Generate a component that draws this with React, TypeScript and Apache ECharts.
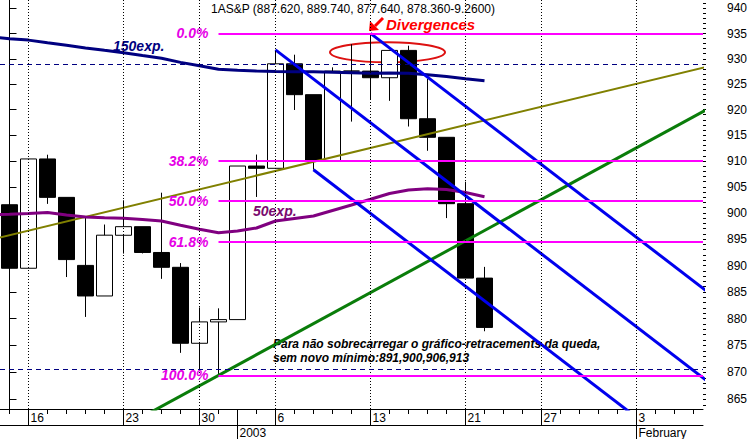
import React, { useEffect, useRef } from 'react';
import * as echarts from 'echarts';

// Trading days shown on the category axis (Dec 13, 2002 .. Feb 6, 2003)
const dates = [
  '12-13', '12-16', '12-17', '12-18', '12-19', '12-20', '12-23', '12-24', '12-26', '12-27', '12-30', '12-31',
  '01-02', '01-03', '01-06', '01-07', '01-08', '01-09', '01-10', '01-13', '01-14', '01-15', '01-16', '01-17',
  '01-21', '01-22', '01-23', '01-24', '01-27', '01-28', '01-29', '01-30', '01-31',
  '02-03', '02-04', '02-05', '02-06',
];

// S&P daily OHLC (Dec 13 .. Jan 22)
const openP = [901.58, 889.48, 910.40, 902.99, 890.02, 884.25, 895.74, 897.38, 892.47, 889.66, 875.40, 879.39,
  879.82, 909.03, 908.59, 929.01, 922.93, 909.93, 927.58, 927.57, 926.26, 931.66, 918.22, 914.60, 901.78, 887.62];
const highP = [901.58, 910.42, 911.22, 902.99, 899.19, 897.79, 902.43, 897.38, 903.89, 890.46, 882.10, 881.93,
  909.03, 911.25, 931.77, 930.81, 922.93, 928.31, 932.89, 935.05, 931.66, 932.59, 926.03, 914.60, 906.00, 889.74];
const lowP = [888.48, 889.48, 901.74, 887.82, 880.32, 884.25, 892.26, 892.29, 887.48, 873.62, 870.23, 869.45,
  879.82, 903.07, 908.59, 919.93, 908.32, 909.93, 917.66, 922.05, 921.72, 916.70, 911.98, 899.02, 887.62, 877.64];
const closeP = [889.48, 910.40, 902.99, 891.12, 884.25, 895.76, 897.38, 892.47, 889.66, 875.40, 879.39, 879.82,
  909.03, 908.59, 929.01, 922.93, 909.93, 927.57, 927.57, 926.26, 931.66, 918.22, 914.60, 901.78, 887.62, 878.36];

// Moving averages, first value belongs to the day before the first visible category (index -1)
const maStartIdx = -1;
const ema150 = [934.39, 933.99, 933.70, 933.16, 932.67, 932.15, 931.67, 931.20, 930.64, 930.12, 929.29, 928.63,
  927.94, 927.74, 927.58, 927.50, 927.44, 927.42, 927.34, 927.24, 927.14, 927.18, 927.14, 926.84, 926.49, 926.05, 925.65];
const ema50 = [899.70, 899.74, 899.90, 900.09, 899.61, 899.23, 899.07, 898.98, 898.73, 898.46, 897.66, 896.90,
  896.23, 896.55, 897.13, 898.46, 898.94, 899.42, 900.47, 901.52, 902.62, 903.73, 904.40, 904.65, 904.50, 903.92, 903.11];

// Trend lines: [categoryIndex, price] endpoints
const oliveLine = [[-1, 894.88], [37, 928.69]];
const greenLine = [[7, 861.83], [37, 920.63]];
const blueLines = [
  [[14, 931.77], [37, 867.65]],
  [[19, 935.05], [37, 884.32]],
  [[16, 908.32], [37, 851.09]],
];

// Fibonacci retracement
const fibHigh = 935.05;
const fibLow = 869.45;
const fibStartIdx = 11;
const fibLevels = [0, 38.2, 50, 61.8, 100];

const dashedLevels = [929.0, 870.6];

// Axis ticks / labels
const majorTickIdx = [1, 6, 10, 14, 19, 24, 28, 33];
const separatorIdx = [12, 33];
const separatorLabels = ['2003', 'February'];
const yTickLabels = [865, 870, 875, 880, 885, 890, 895, 900, 905, 910, 915, 920, 925, 930, 935, 940];
const yMin = 863.25;
const yMax = 941.7;

const FONT = 'Arial, "Liberation Sans", sans-serif';

export default function App() {
  const ref = useRef<HTMLDivElement>(null);

  useEffect(() => {
    const chart = echarts.init(ref.current as HTMLDivElement, null, { renderer: 'svg' });

    const yMinor: number[] = [];
    for (let v = Math.ceil(yMin); v <= Math.floor(yMax); v++) yMinor.push(v);

    const candleData = openP.map((o, i) => [o, closeP[i], lowP[i], highP[i]]);
    const xMaxIdx = dates.length - 0.5;

    const lineSeries = (data: number[][], color: string, width: number, z = 3) => ({
      type: 'line',
      xAxisIndex: 3,
      yAxisIndex: 0,
      data,
      symbol: 'none',
      silent: true,
      z,
      lineStyle: { color, width },
    });

    const option: any = {
      animation: false,
      backgroundColor: '#ffffff',
      grid: { left: -1, top: 0, width: 704, height: 409, containLabel: false },
      xAxis: [
        {
          type: 'category',
          data: dates,
          position: 'bottom',
          boundaryGap: true,
          axisLine: { show: true, lineStyle: { color: '#000', width: 1 } },
          axisTick: { show: true, interval: 0, alignWithLabel: true, length: 5, lineStyle: { color: '#000' } },
          axisLabel: {
            show: true,
            interval: (i: number) => majorTickIdx.includes(i),
            formatter: (v: string) => String(Number(v.slice(3))),
            align: 'left',
            margin: 3,
            padding: [0, 0, 0, 2],
            color: '#000',
            fontSize: 12,
            fontFamily: FONT,
          },
          splitLine: { show: false },
        },
        {
          type: 'category',
          data: dates,
          position: 'bottom',
          axisLine: { show: false },
          axisTick: {
            show: true,
            interval: (i: number) => majorTickIdx.includes(i) || separatorIdx.includes(i),
            alignWithLabel: true,
            length: 16,
            lineStyle: { color: '#000' },
          },
          axisLabel: { show: false },
          splitLine: { show: false },
        },
        {
          type: 'category',
          data: dates,
          position: 'bottom',
          offset: 16,
          axisLine: { show: true, lineStyle: { color: '#000', width: 1 } },
          axisTick: {
            show: true,
            interval: (i: number) => separatorIdx.includes(i),
            alignWithLabel: true,
            length: 14,
            lineStyle: { color: '#000' },
          },
          axisLabel: {
            show: true,
            interval: (i: number) => separatorIdx.includes(i),
            formatter: (_v: string, i: number) => separatorLabels[separatorIdx.indexOf(i)] || '',
            align: 'left',
            margin: 2,
            padding: [0, 0, 0, 2],
            color: '#000',
            fontSize: 12,
            fontFamily: FONT,
          },
          splitLine: { show: false },
        },
        { type: 'value', min: -0.5, max: xMaxIdx, show: false, position: 'bottom' },
      ],
      yAxis: [
        {
          type: 'log',
          logBase: 10,
          min: yMin,
          max: yMax,
          position: 'right',
          axisLine: { show: true, lineStyle: { color: '#000', width: 1 } },
          axisTick: { show: true, customValues: yTickLabels, length: 7, lineStyle: { color: '#000' } },
          axisLabel: {
            show: true,
            customValues: yTickLabels,
            margin: 24,
            color: '#000',
            fontSize: 12,
            fontFamily: FONT,
            formatter: (v: number) => String(Math.round(v)),
          },
          splitLine: { show: false },
        },
        {
          type: 'log',
          logBase: 10,
          min: yMin,
          max: yMax,
          position: 'right',
          axisLine: { show: false },
          axisTick: { show: true, customValues: yMinor, length: 3, lineStyle: { color: '#000' } },
          axisLabel: { show: false },
          splitLine: { show: false },
        },
      ],
      series: [
        {
          type: 'line',
          xAxisIndex: 3,
          yAxisIndex: 0,
          data: [],
          silent: true,
          z: 1,
          markLine: {
            silent: true,
            symbol: ['none', 'none'],
            label: { show: false },
            lineStyle: { color: '#000', type: [1, 2], width: 1 },
            data: majorTickIdx.map((i) => ({ xAxis: i })),
          },
        },
        {
          type: 'line',
          xAxisIndex: 3,
          yAxisIndex: 0,
          data: [],
          silent: true,
          z: 1,
          markLine: {
            silent: true,
            symbol: ['none', 'none'],
            label: { show: false },
            lineStyle: { color: '#000080', type: [5, 4], width: 1 },
            data: dashedLevels.map((v) => ({ yAxis: v })),
          },
        },
        {
          type: 'candlestick',
          xAxisIndex: 0,
          yAxisIndex: 0,
          data: candleData,
          barWidth: 16,
          silent: true,
          z: 2,
          itemStyle: {
            color: '#ffffff',
            color0: '#000000',
            borderColor: '#000000',
            borderColor0: '#000000',
            borderWidth: 1,
          },
        },
        {
          type: 'line',
          xAxisIndex: 3,
          yAxisIndex: 0,
          data: [],
          silent: true,
          z: 3,
          markLine: {
            silent: true,
            symbol: ['none', 'none'],
            lineStyle: { color: '#ff00ff', type: 'solid', width: 2 },
            label: {
              show: true,
              position: 'start',
              distance: 10,
              color: '#e600e6',
              fontSize: 14,
              fontWeight: 'bold',
              fontStyle: 'italic',
              fontFamily: FONT,
            },
            data: fibLevels.map((p) => {
              const v = fibHigh - ((fibHigh - fibLow) * p) / 100;
              return [
                { coord: [fibStartIdx, v], label: { formatter: p.toFixed(1) + '%' } },
                { coord: [xMaxIdx, v] },
              ];
            }),
          },
        },
        lineSeries(oliveLine, '#808000', 2),
        lineSeries(greenLine, '#0a7d0a', 3),
        lineSeries(ema150.map((v, k) => [k + maStartIdx, v]), '#000080', 3),
        lineSeries(ema50.map((v, k) => [k + maStartIdx, v]), '#800080', 3),
        ...blueLines.map((l) => lineSeries(l, '#0000ee', 3, 4)),
      ],
      graphic: [
        {
          type: 'text', x: 211, y: 8.5, silent: true,
          style: { text: '1AS&P (887.620, 889.740, 877.640, 878.360-9.2600)', fill: '#000', fontSize: 12, fontFamily: FONT, verticalAlign: 'middle' },
        },
        {
          type: 'text', x: 386, y: 24, silent: true,
          style: { text: 'Divergences', fill: '#ff0000', fontSize: 15, fontWeight: 'bold', fontStyle: 'italic', fontFamily: FONT, verticalAlign: 'middle' },
        },
        {
          type: 'line', silent: true,
          shape: { x1: 383, y1: 18, x2: 375, y2: 26 },
          style: { stroke: '#ff0000', lineWidth: 3 },
        },
        {
          type: 'polygon', silent: true,
          shape: { points: [[369, 31], [370, 21], [379, 30]] },
          style: { fill: '#ff0000' },
        },
        {
          type: 'ellipse', silent: true,
          shape: { cx: 387.5, cy: 52.3, rx: 57.5, ry: 10 },
          style: { fill: 'none', stroke: '#dd1111', lineWidth: 2 },
        },
        {
          type: 'text', x: 113, y: 45.5, silent: true,
          style: { text: '150exp.', fill: '#000080', fontSize: 14, fontWeight: 'bold', fontStyle: 'italic', fontFamily: FONT, verticalAlign: 'middle' },
        },
        {
          type: 'text', x: 253, y: 211, silent: true,
          style: { text: '50exp.', fill: '#7a0a6e', fontSize: 14, fontWeight: 'bold', fontStyle: 'italic', fontFamily: FONT, verticalAlign: 'middle' },
        },
        {
          type: 'text', x: 273, y: 343.5, silent: true,
          style: { text: 'Para não sobrecarregar o gráfico-retracements da queda,', fill: '#000', fontSize: 12, fontWeight: 'bold', fontStyle: 'italic', fontFamily: FONT, verticalAlign: 'middle' },
        },
        {
          type: 'text', x: 273, y: 358, silent: true,
          style: { text: 'sem novo mínimo:891,900,906,913', fill: '#000', fontSize: 12, fontWeight: 'bold', fontStyle: 'italic', fontFamily: FONT, verticalAlign: 'middle' },
        },
      ],
    };

    chart.setOption(option);
    return () => chart.dispose();
  }, []);

  return (
    <div
      ref={ref}
      style={{ position: 'absolute', left: 0, top: 0, width: 751, height: 439, background: '#ffffff' }}
    />
  );
}
